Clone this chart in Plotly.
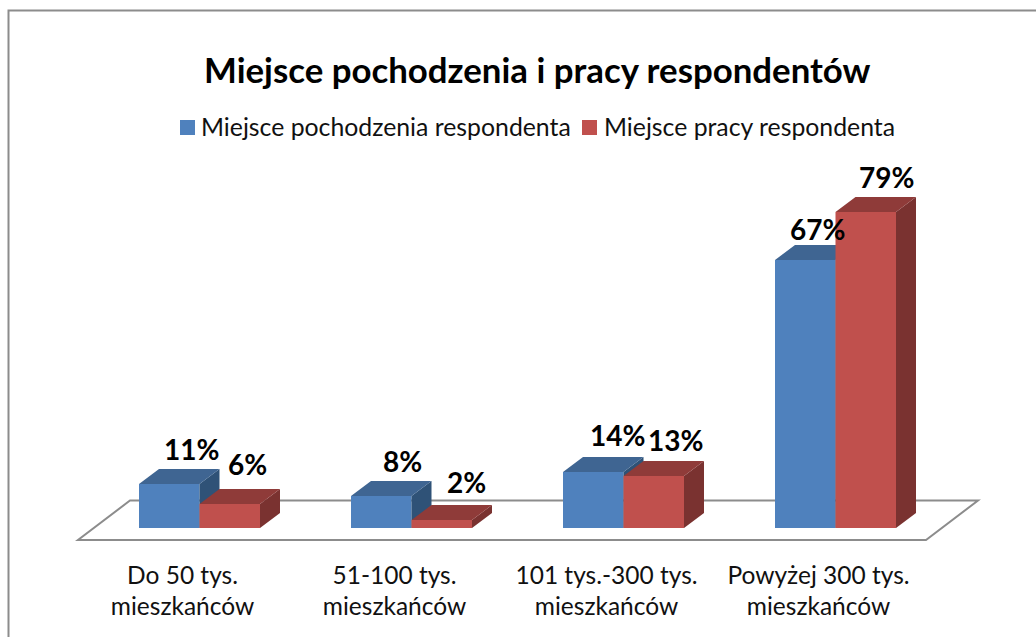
import plotly.graph_objects as go

title = "Miejsce pochodzenia i pracy respondentów"
categories = ["Do 50 tys.<br>mieszkańców", "51-100 tys.<br>mieszkańców",
              "101 tys.-300 tys.<br>mieszkańców", "Powyżej 300 tys.<br>mieszkańców"]
series_names = ["Miejsce pochodzenia respondenta", "Miejsce pracy respondenta"]
origin_values = [11, 8, 14, 67]
work_values = [6, 2, 13, 79]

# pixel geometry of the page
W, H = 1036, 637
PX_PER_CAT = 212.0
PX_PER_PCT = 4.0
CAT0_PX = 199.5
BASE_PX = 528.0
AXIS_BOTTOM_PX = 558.0
FLOOR_FRONT_PX = 540.0
x_range = [-CAT0_PX / PX_PER_CAT, (W - CAT0_PX) / PX_PER_CAT]
y_range = [-(AXIS_BOTTOM_PX - BASE_PX) / PX_PER_PCT, BASE_PX / PX_PER_PCT]

BAR_W = 60.5 / PX_PER_CAT
DX = 20 / PX_PER_CAT
DY = 15 / PX_PER_PCT

FONT = "Lato"
COLORS = [
    dict(front="#4F81BD", top="#3F6592", side="#2F5277"),
    dict(front="#C0504D", top="#8F3B39", side="#7A3230"),
]
# nudges of the data labels, in pixels, relative to the top of each bar
label_dx = [[22, 21, 24, 12], [18, 25, 22, 21]]
label_dy = [[35, 35, 37, 31], [40, 38, 36, 35]]


def polygons(values, start):
    """Top and side faces of the 3-D columns for one series."""
    tx, ty, sx, sy = [], [], [], []
    for i, v in enumerate(values):
        l = i - BAR_W if start == 0 else i
        r = l + BAR_W
        tx += [l, r, r + DX, l + DX, l, None]
        ty += [v, v, v + DY, v + DY, v, None]
        sx += [r, r + DX, r + DX, r, r, None]
        sy += [0, DY, v + DY, v, 0, None]
    return tx, ty, sx, sy


fig = go.Figure()
for k, (vals, name) in enumerate(zip([origin_values, work_values], series_names)):
    xa = "x" if k == 0 else "x2"
    ya = "y" if k == 0 else "y2"
    c = COLORS[k]
    fig.add_trace(go.Bar(x=list(range(4)), y=vals, name=name, width=BAR_W,
                         offset=-BAR_W if k == 0 else 0,
                         marker=dict(color=c["front"], line=dict(width=0)),
                         xaxis=xa, yaxis=ya, showlegend=False))
    tx, ty, sx, sy = polygons(vals, k)
    for px, py_, col in ((sx, sy, c["side"]), (tx, ty, c["top"])):
        fig.add_trace(go.Scatter(x=px, y=py_, mode="lines", fill="toself", fillcolor=col,
                                 line=dict(width=0), xaxis=xa, yaxis=ya,
                                 hoverinfo="skip", showlegend=False))

axis_common = dict(range=x_range, showgrid=False, zeroline=False, showline=False)
fig.update_layout(
    width=W, height=H, autosize=False,
    margin=dict(l=0, r=0, t=0, b=H - AXIS_BOTTOM_PX, pad=0),
    paper_bgcolor="white", plot_bgcolor="rgba(0,0,0,0)",
    barmode="overlay", showlegend=False,
    font=dict(family=FONT, color="black"),
    xaxis=dict(**axis_common, tickmode="array",
               tickvals=[i - 17 / PX_PER_CAT for i in range(4)], ticktext=categories,
               ticks="", ticklen=0, tickangle=0, tickfont=dict(size=24.5, color="#111111")),
    yaxis=dict(range=y_range, showgrid=False, zeroline=False, showline=False, showticklabels=False),
    xaxis2=dict(**axis_common, overlaying="x", showticklabels=False, anchor="y2"),
    yaxis2=dict(range=y_range, overlaying="y", showgrid=False, zeroline=False, showline=False,
                showticklabels=False, anchor="x2"),
)

GRAY = "#8C8C8C"


def py(px):
    """Page pixel row to paper fraction."""
    return 1 - px / AXIS_BOTTOM_PX


shapes = [
    # outer frame: only the top and left edges are inside the picture
    dict(type="path", xref="paper", yref="paper", layer="below",
         path=f"M {8.5/W} {py(H+5)} L {8.5/W} {py(10.5)} L 1 {py(10.5)}",
         line=dict(color=GRAY, width=2)),
]
# floor
fl = (78 - CAT0_PX) / PX_PER_CAT
fr = (926 - CAT0_PX) / PX_PER_CAT
fy0 = (BASE_PX - FLOOR_FRONT_PX) / PX_PER_PCT
fdx = 52 / PX_PER_CAT
fdy = 39.5 / PX_PER_PCT
shapes.append(dict(type="path", xref="x", yref="y", layer="below",
                   path=f"M {fl} {fy0} L {fr} {fy0} L {fr+fdx} {fy0+fdy} L {fl+fdx} {fy0+fdy} Z",
                   line=dict(color=GRAY, width=2), fillcolor="white"))
# legend key swatches
for sx0, col in zip((180, 582), (COLORS[0]["front"], COLORS[1]["front"])):
    shapes.append(dict(type="rect", xref="paper", yref="paper", x0=sx0 / W, x1=(sx0 + 15) / W,
                       y0=py(135), y1=py(120), fillcolor=col, line=dict(width=0)))
fig.update_layout(shapes=shapes)

ann = [
    dict(text=f"<b>{title}</b>", xref="paper", yref="paper", x=537 / W, y=py(69),
         xanchor="center", yanchor="middle", showarrow=False, font=dict(size=34.8, color="black")),
    dict(text=series_names[0], xref="paper", yref="paper", x=199 / W, y=py(126),
         xanchor="left", yanchor="middle", showarrow=False, font=dict(size=24.8, color="#111111")),
    dict(text=series_names[1], xref="paper", yref="paper", x=602 / W, y=py(126),
         xanchor="left", yanchor="middle", showarrow=False, font=dict(size=24.8, color="#111111")),
]
for k, vals in enumerate([origin_values, work_values]):
    for i, v in enumerate(vals):
        cx = i + (-BAR_W / 2 if k == 0 else BAR_W / 2)
        ann.append(dict(text=f"<b>{v}%</b>", x=cx, y=v, xref="x", yref="y",
                        xanchor="center", yanchor="middle", showarrow=False,
                        xshift=label_dx[k][i], yshift=label_dy[k][i],
                        font=dict(size=28, color="black")))
fig.update_layout(annotations=ann)

fig.write_html("out.html", config=dict(displayModeBar=False),
               post_script="document.body.style.margin='0';document.body.style.overflow='hidden';")
